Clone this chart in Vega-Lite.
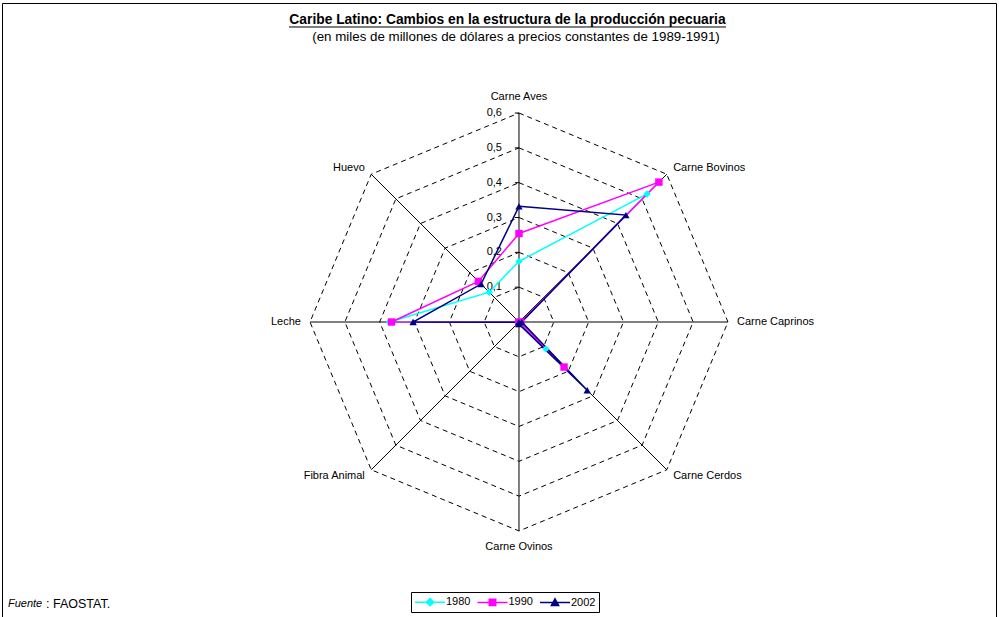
{
  "$schema": "https://vega.github.io/schema/vega-lite/v6.json",
  "width": 994,
  "height": 620,
  "autosize": {"type": "none"},
  "padding": {"left": 2, "top": 3, "right": 3, "bottom": 0},
  "background": "white",
  "config": {
    "view": {"stroke": "black", "strokeWidth": 1},
    "font": "Liberation Sans"
  },
  "datasets": {
    "prod": [
      {"categoria": "Carne Aves", "año": "1980", "valor": 0.174},
      {"categoria": "Carne Bovinos", "año": "1980", "valor": 0.52},
      {"categoria": "Carne Caprinos", "año": "1980", "valor": 0.005},
      {"categoria": "Carne Cerdos", "año": "1980", "valor": 0.109},
      {"categoria": "Carne Ovinos", "año": "1980", "valor": 0.004},
      {"categoria": "Fibra Animal", "año": "1980", "valor": 0.001},
      {"categoria": "Leche", "año": "1980", "valor": 0.372},
      {"categoria": "Huevo", "año": "1980", "valor": 0.121},
      {"categoria": "Carne Aves", "año": "1990", "valor": 0.254},
      {"categoria": "Carne Bovinos", "año": "1990", "valor": 0.568},
      {"categoria": "Carne Caprinos", "año": "1990", "valor": 0.005},
      {"categoria": "Carne Cerdos", "año": "1990", "valor": 0.183},
      {"categoria": "Carne Ovinos", "año": "1990", "valor": 0.004},
      {"categoria": "Fibra Animal", "año": "1990", "valor": 0.001},
      {"categoria": "Leche", "año": "1990", "valor": 0.366},
      {"categoria": "Huevo", "año": "1990", "valor": 0.165},
      {"categoria": "Carne Aves", "año": "2002", "valor": 0.332},
      {"categoria": "Carne Bovinos", "año": "2002", "valor": 0.434},
      {"categoria": "Carne Caprinos", "año": "2002", "valor": 0.008},
      {"categoria": "Carne Cerdos", "año": "2002", "valor": 0.277},
      {"categoria": "Carne Ovinos", "año": "2002", "valor": 0.006},
      {"categoria": "Fibra Animal", "año": "2002", "valor": 0.001},
      {"categoria": "Leche", "año": "2002", "valor": 0.304},
      {"categoria": "Huevo", "año": "2002", "valor": 0.154}
    ],
    "cats": [
      {"categoria": "Carne Aves"},
      {"categoria": "Carne Bovinos"},
      {"categoria": "Carne Caprinos"},
      {"categoria": "Carne Cerdos"},
      {"categoria": "Carne Ovinos"},
      {"categoria": "Fibra Animal"},
      {"categoria": "Leche"},
      {"categoria": "Huevo"}
    ],
    "niveles": [
      {"nivel": 0.1}, {"nivel": 0.2}, {"nivel": 0.3}, {"nivel": 0.4}, {"nivel": 0.5}, {"nivel": 0.6}
    ],
    "uno": [{"k": 1}]
  },
  "layer": [
    {
      "data": {"name": "niveles"},
      "transform": [
        {"calculate": "['Carne Aves','Carne Bovinos','Carne Caprinos','Carne Cerdos','Carne Ovinos','Fibra Animal','Leche','Huevo']", "as": "cats"},
        {"flatten": ["cats"]},
        {"calculate": "indexof(['Carne Aves','Carne Bovinos','Carne Caprinos','Carne Cerdos','Carne Ovinos','Fibra Animal','Leche','Huevo'], datum.cats)", "as": "idx"},
        {"calculate": "datum.nivel*sin(datum.idx*PI/4)", "as": "x"},
        {"calculate": "datum.nivel*cos(datum.idx*PI/4)", "as": "y"}
      ],
      "mark": {"type": "line", "interpolate": "linear-closed", "color": "black", "strokeWidth": 1, "strokeDash": [5, 4]},
      "encoding": {
        "x": {"field": "x", "type": "quantitative", "scale": {"domain": [-1.4843, 1.3695], "nice": false, "zero": false}, "axis": null},
        "y": {"field": "y", "type": "quantitative", "scale": {"domain": [-0.8642, 0.9159], "nice": false, "zero": false}, "axis": null},
        "detail": {"field": "nivel", "type": "nominal"},
        "order": {"field": "idx", "type": "quantitative"}
      }
    },
    {
      "data": {"name": "cats"},
      "transform": [
        {"calculate": "indexof(['Carne Aves','Carne Bovinos','Carne Caprinos','Carne Cerdos','Carne Ovinos','Fibra Animal','Leche','Huevo'], datum.categoria)", "as": "idx"},
        {"calculate": "0.6*sin(datum.idx*PI/4)", "as": "x"},
        {"calculate": "0.6*cos(datum.idx*PI/4)", "as": "y"},
        {"calculate": "0", "as": "x0"},
        {"calculate": "0", "as": "y0"}
      ],
      "mark": {"type": "rule", "color": "black", "strokeWidth": 1},
      "encoding": {
        "x": {"field": "x", "type": "quantitative", "axis": null},
        "y": {"field": "y", "type": "quantitative", "axis": null},
        "x2": {"field": "x0"},
        "y2": {"field": "y0"}
      }
    },
    {
      "data": {"name": "niveles"},
      "transform": [
        {"calculate": "-0.012", "as": "xa"},
        {"calculate": "0", "as": "xb"},
        {"calculate": "replace(format(datum.nivel, '.1f'), '.', ',')", "as": "etiqueta"}
      ],
      "layer": [
        {
          "mark": {"type": "rule", "color": "black", "strokeWidth": 1},
          "encoding": {
            "x": {"field": "xa", "type": "quantitative", "axis": null},
            "x2": {"field": "xb"},
            "y": {"field": "nivel", "type": "quantitative", "axis": null}
          }
        },
        {
          "mark": {"type": "text", "align": "right", "baseline": "middle", "dx": -17, "fontSize": 11, "color": "black", "font": "Liberation Sans"},
          "encoding": {
            "x": {"field": "xb", "type": "quantitative", "axis": null},
            "y": {"field": "nivel", "type": "quantitative", "axis": null},
            "text": {"field": "etiqueta", "type": "nominal"}
          }
        }
      ]
    },
    {
      "data": {"name": "cats"},
      "transform": [
        {"calculate": "indexof(['Carne Aves','Carne Bovinos','Carne Caprinos','Carne Cerdos','Carne Ovinos','Fibra Animal','Leche','Huevo'], datum.categoria)", "as": "idx"},
        {"calculate": "sin(datum.idx*PI/4)", "as": "s"},
        {"calculate": "(abs(datum.s) < 0.01 ? 0.646 : 0.626)*cos(datum.idx*PI/4)", "as": "y"},
        {"calculate": "0.626*datum.s", "as": "x"}
      ],
      "layer": [
        {
          "transform": [{"filter": "abs(datum.s) < 0.01"}],
          "mark": {"type": "text", "align": "center", "baseline": "middle", "fontSize": 11, "color": "black", "font": "Liberation Sans"},
          "encoding": {
            "x": {"field": "x", "type": "quantitative", "axis": null},
            "y": {"field": "y", "type": "quantitative", "axis": null},
            "text": {"field": "categoria", "type": "nominal"}
          }
        },
        {
          "transform": [{"filter": "datum.s > 0.01"}],
          "mark": {"type": "text", "align": "left", "baseline": "middle", "fontSize": 11, "color": "black", "font": "Liberation Sans"},
          "encoding": {
            "x": {"field": "x", "type": "quantitative", "axis": null},
            "y": {"field": "y", "type": "quantitative", "axis": null},
            "text": {"field": "categoria", "type": "nominal"}
          }
        },
        {
          "transform": [{"filter": "datum.s < -0.01"}],
          "mark": {"type": "text", "align": "right", "baseline": "middle", "fontSize": 11, "color": "black", "font": "Liberation Sans"},
          "encoding": {
            "x": {"field": "x", "type": "quantitative", "axis": null},
            "y": {"field": "y", "type": "quantitative", "axis": null},
            "text": {"field": "categoria", "type": "nominal"}
          }
        }
      ]
    },
    {
      "data": {"name": "prod"},
      "transform": [
        {"calculate": "indexof(['Carne Aves','Carne Bovinos','Carne Caprinos','Carne Cerdos','Carne Ovinos','Fibra Animal','Leche','Huevo'], datum.categoria)", "as": "idx"},
        {"calculate": "datum.valor*sin(datum.idx*PI/4)", "as": "x"},
        {"calculate": "datum.valor*cos(datum.idx*PI/4)", "as": "y"}
      ],
      "resolve": {"scale": {"shape": "independent"}, "legend": {"color": "independent", "shape": "independent", "stroke": "independent"}},
      "layer": [
        {
          "mark": {"type": "line", "interpolate": "linear-closed", "strokeWidth": 1.5},
          "encoding": {
            "x": {"field": "x", "type": "quantitative", "axis": null},
            "y": {"field": "y", "type": "quantitative", "axis": null},
            "color": {"field": "año", "type": "nominal", "scale": {"domain": ["1980", "1990", "2002"], "range": ["#00FFFF", "#FF00FF", "#000080"]}, "legend": null},
            "order": {"field": "idx", "type": "quantitative"}
          }
        },
        {
          "mark": {"type": "point", "filled": true, "opacity": 1, "size": 55, "strokeWidth": 0},
          "encoding": {
            "x": {"field": "x", "type": "quantitative", "axis": null},
            "y": {"field": "y", "type": "quantitative", "axis": null},
            "color": {"field": "año", "type": "nominal", "legend": null},
            "shape": {
              "field": "año", "type": "nominal", "legend": null,
              "scale": {"domain": ["1980", "1990", "2002"], "range": ["diamond", "square", "triangle-up"]}
            }
          }
        },
        {
          "mark": {"type": "point", "filled": true, "opacity": 1, "size": 0, "strokeWidth": 1.5},
          "encoding": {
            "x": {"field": "x", "type": "quantitative", "axis": null},
            "y": {"field": "y", "type": "quantitative", "axis": null},
            "color": {
              "field": "año", "type": "nominal",
              "legend": {
                "orient": "none", "legendX": 409, "legendY": 589, "direction": "horizontal", "title": null,
                "strokeColor": "black", "fillColor": "white", "padding": 3,
                "labelFontSize": 11, "labelFont": "Liberation Sans", "labelColor": "black", "labelOffset": 18,
                "columnPadding": 3.5, "symbolSize": 144, "symbolStrokeWidth": 1.5
              }
            },
            "stroke": {
              "field": "año", "type": "nominal",
              "scale": {"domain": ["1980", "1990", "2002"], "range": ["#00FFFF", "#FF00FF", "#000080"]},
              "legend": {
                "orient": "none", "legendX": 409, "legendY": 589, "direction": "horizontal", "title": null,
                "strokeColor": "black", "fillColor": "white", "padding": 3,
                "labelFontSize": 11, "labelFont": "Liberation Sans", "labelColor": "black", "labelOffset": 18,
                "columnPadding": 3.5, "symbolSize": 144, "symbolStrokeWidth": 1.5
              }
            },
            "shape": {
              "field": "año", "type": "nominal",
              "scale": {"domain": ["1980", "1990", "2002"], "range": [
                "M-1,0L4,0M1.5,-0.6L2.1,0L1.5,0.6L0.9,0Z",
                "M-1,0L4,0M0.96,-0.54L2.04,-0.54L2.04,0.54L0.96,0.54Z",
                "M-1,0L4,0M1.5,-0.62L2.1,0.48L0.9,0.48Z"
              ]},
              "legend": {
                "orient": "none", "legendX": 409, "legendY": 589, "direction": "horizontal", "title": null,
                "strokeColor": "black", "fillColor": "white", "padding": 3,
                "labelFontSize": 11, "labelFont": "Liberation Sans", "labelColor": "black", "labelOffset": 18,
                "columnPadding": 3.5, "symbolSize": 144, "symbolStrokeWidth": 1.5
              }
            }
          }
        }
      ]
    },
    {
      "data": {"name": "uno"},
      "transform": [
        {"calculate": "-0.033", "as": "tx"},
        {"calculate": "0.8671", "as": "ty"},
        {"calculate": "-0.0086", "as": "sx"},
        {"calculate": "0.8183", "as": "sy"},
        {"calculate": "-0.6604", "as": "ux1"},
        {"calculate": "0.5943", "as": "ux2"},
        {"calculate": "0.8470", "as": "uy"},
        {"calculate": "-1.4671", "as": "fx1"},
        {"calculate": "-1.358", "as": "fx2"},
        {"calculate": "-0.8097", "as": "fy"}
      ],
      "layer": [
        {
          "mark": {"type": "text", "align": "center", "baseline": "middle", "fontSize": 13.8, "fontWeight": "bold", "color": "black", "font": "Liberation Sans", "text": "Caribe Latino: Cambios en la estructura de la producción pecuaria"},
          "encoding": {"x": {"field": "tx", "type": "quantitative", "axis": null}, "y": {"field": "ty", "type": "quantitative", "axis": null}}
        },
        {
          "mark": {"type": "rule", "color": "black", "strokeWidth": 1},
          "encoding": {"x": {"field": "ux1", "type": "quantitative", "axis": null}, "x2": {"field": "ux2"}, "y": {"field": "uy", "type": "quantitative", "axis": null}}
        },
        {
          "mark": {"type": "text", "align": "center", "baseline": "middle", "fontSize": 13.33, "color": "black", "font": "Liberation Sans", "text": "(en miles de millones de dólares a precios constantes de 1989-1991)"},
          "encoding": {"x": {"field": "sx", "type": "quantitative", "axis": null}, "y": {"field": "sy", "type": "quantitative", "axis": null}}
        },
        {
          "mark": {"type": "text", "align": "left", "baseline": "middle", "fontSize": 11, "fontStyle": "italic", "color": "black", "font": "Liberation Sans", "text": "Fuente"},
          "encoding": {"x": {"field": "fx1", "type": "quantitative", "axis": null}, "y": {"field": "fy", "type": "quantitative", "axis": null}}
        },
        {
          "mark": {"type": "text", "align": "left", "baseline": "middle", "fontSize": 12.5, "color": "black", "font": "Liberation Sans", "text": ": FAOSTAT."},
          "encoding": {"x": {"field": "fx2", "type": "quantitative", "axis": null}, "y": {"field": "fy", "type": "quantitative", "axis": null}}
        }
      ]
    }
  ]
}
